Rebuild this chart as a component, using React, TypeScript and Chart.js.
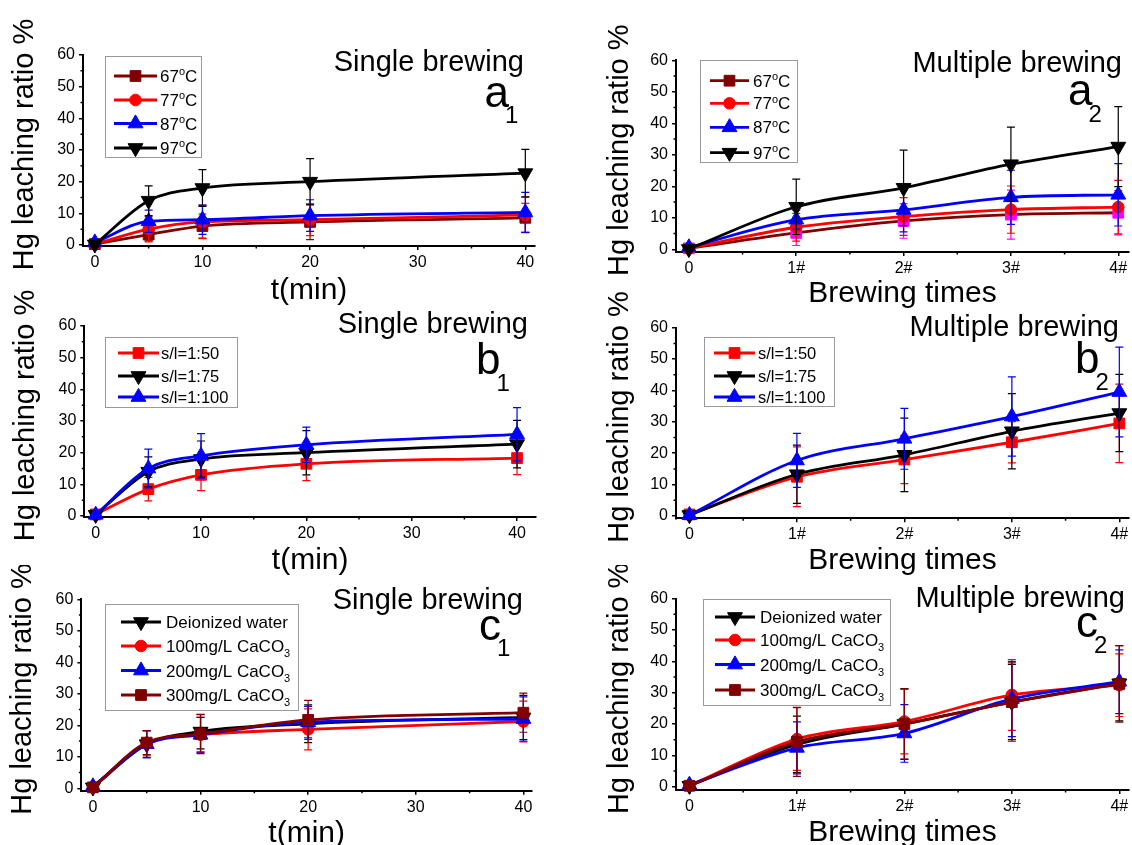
import React, { useEffect, useRef } from 'react';
import { Chart, registerables } from 'chart.js';
Chart.register(...registerables);

const FONT = "'Liberation Sans', Arial, Helvetica, sans-serif";

// ---------- data ----------
const timeMin = [0, 5, 10, 20, 40];
const brewIndex = [0, 1, 2, 3, 4];
const brewTickLabels = ['0', '1#', '2#', '3#', '4#'];
const timeTicks = [0, 10, 20, 30, 40];
const timeMinorTicks = [5, 15, 25, 35];
const brewTicks = [0, 1, 2, 3, 4];
const brewMinorTicks = [0.5, 1.5, 2.5, 3.5];
const yTicks = [0, 10, 20, 30, 40, 50, 60];
const yMinorTicks = [5, 15, 25, 35, 45, 55];

const yAxisTitle = 'Hg leaching ratio %';
const timeAxisTitle = 't(min)';
const brewAxisTitle = 'Brewing times';

const tempLabels = ['67°C', '77°C', '87°C', '97°C'];
const ratioLabels = ['s/l=1:50', 's/l=1:75', 's/l=1:100'];
const waterLabels = ['Deionized water', '100mg/L CaCO3', '200mg/L CaCO3', '300mg/L CaCO3'];

// a1 single brewing, temperature
const a1_67 = [0.3, 3.3, 6.0, 7.3, 8.6];
const a1_67_err = [0.4, 2.0, 3.8, 5.6, 4.6];
const a1_77 = [0.3, 5.0, 7.3, 8.0, 9.5];
const a1_77_err = [0.5, 4.0, 5.3, 5.0, 5.6];
const a1_87 = [0.8, 7.5, 8.0, 9.3, 10.3];
const a1_87_err = [0.6, 3.5, 4.6, 5.0, 6.3];
const a1_97 = [0.2, 14.0, 18.0, 20.0, 22.7];
const a1_97_err = [0.3, 4.7, 5.8, 7.3, 7.5];

// a2 multiple brewing, temperature
const a2_67 = [0.3, 5.2, 9.0, 11.0, 11.6];
const a2_67_err = [0.3, 4.0, 5.5, 7.8, 7.0];
const a2_77 = [0.3, 7.0, 10.4, 12.6, 13.4];
const a2_77_err = [0.3, 4.4, 6.0, 7.5, 8.5];
const a2_87 = [0.6, 9.4, 12.5, 16.5, 17.3];
const a2_87_err = [0.4, 3.0, 7.0, 8.6, 9.9];
const a2_97 = [0.1, 13.5, 19.5, 27.0, 32.6];
const a2_97_err = [0.3, 8.8, 12.0, 11.8, 12.7];

// b1 single brewing, solid/liquid ratio
const b1_50 = [0.5, 8.5, 13.0, 16.5, 18.3];
const b1_50_err = [0.3, 3.7, 5.0, 5.3, 5.2];
const b1_75 = [0.4, 14.0, 18.0, 20.0, 22.7];
const b1_75_err = [0.3, 4.7, 5.7, 7.0, 7.5];
const b1_100 = [0.4, 15.0, 19.0, 22.5, 25.8];
const b1_100_err = [0.3, 6.1, 7.0, 5.6, 8.4];

// b2 multiple brewing, solid/liquid ratio
const b2_50 = [0.5, 12.5, 18.0, 23.5, 29.5];
const b2_50_err = [0.3, 9.5, 7.7, 6.6, 12.5];
const b2_75 = [0.3, 13.3, 19.5, 27.0, 32.8];
const b2_75_err = [0.3, 9.3, 11.7, 12.0, 12.3];
const b2_100 = [0.3, 17.7, 24.6, 31.7, 39.5];
const b2_100_err = [0.3, 8.6, 9.7, 12.6, 14.3];

// c1 single brewing, water hardness
const c1_di = [0.3, 14.0, 18.0, 20.5, 22.5];
const c1_di_err = [0.3, 4.3, 5.5, 6.0, 7.0];
const c1_100 = [0.3, 14.3, 17.0, 18.7, 21.2];
const c1_100_err = [0.3, 4.0, 5.5, 6.5, 6.5];
const c1_200 = [0.6, 14.0, 17.0, 21.0, 22.0];
const c1_200_err = [0.3, 4.3, 5.5, 5.0, 7.0];
const c1_300 = [0.3, 14.5, 17.2, 21.7, 24.0];
const c1_300_err = [0.3, 3.8, 6.2, 6.2, 6.2];

// c2 multiple brewing, water hardness
const c2_di = [0.3, 13.5, 20.0, 27.0, 33.0];
const c2_di_err = [0.3, 9.0, 11.3, 12.0, 12.0];
const c2_100 = [0.3, 15.2, 20.8, 29.3, 32.4];
const c2_100_err = [0.3, 10.0, 10.3, 11.3, 10.0];
const c2_200 = [0.6, 12.4, 17.0, 28.0, 33.5];
const c2_200_err = [0.3, 8.3, 9.2, 12.0, 10.2];
const c2_300 = [0.3, 14.3, 20.0, 27.0, 32.8];
const c2_300_err = [0.3, 11.0, 11.2, 12.5, 12.2];

// ---------- styles ----------
const WINE = '#800000';
const RED = '#FF0000';
const BLUE = '#0000FF';
const BLACK = '#000000';
const MAGENTA = '#FF00FF';

type Shape = 'rect' | 'circle' | 'triangle' | 'invtriangle';
type Series = {
  label: string;
  values: number[];
  errors: number[];
  color: string;
  pointColor?: string;
  legendPointColor?: string;
  shape: Shape;
};

const R_RECT = 7.6;
const R_CIRCLE = 5.8;
const R_TRI = 8.6;
const X_TITLE_SIZE = 30;
const Y_TITLE_SIZE = 29;

type Panel = {
  key: string;
  canvas: { left: number; top: number; width: number; height: number };
  area: { L: number; T: number; R: number; B: number };
  scaleLeft: number;
  xs: number[];
  xMin: number;
  xMax: number;
  xTicks: number[];
  xMinor: number[];
  xLabels?: string[];
  xTitle: string;
  yMin: number;
  series: Series[];
  title: string;
  titleRight: number;
  titleBaseline: number;
  letter: string;
  sub: string;
  letterLeft: number;
  letterBaseline: number;
  subBaseline: number;
  legend: { x: number; y: number; w: number; h: number; rows: number[]; lx0: number; lx1: number; tx: number; size: number };
};

const panels: Panel[] = [
  {
    key: 'a1',
    canvas: { left: 0, top: 0, width: 566, height: 309 },
    area: { L: 83, T: 55, R: 535, B: 246 },
    scaleLeft: 6.5,
    xs: timeMin, xMin: -1.1, xMax: 40.9, xTicks: timeTicks, xMinor: timeMinorTicks, xTitle: timeAxisTitle,
    yMin: -0.3,
    series: [
      { label: tempLabels[0], values: a1_67, errors: a1_67_err, color: WINE, shape: 'rect' },
      { label: tempLabels[1], values: a1_77, errors: a1_77_err, color: RED, shape: 'circle' },
      { label: tempLabels[2], values: a1_87, errors: a1_87_err, color: BLUE, shape: 'triangle' },
      { label: tempLabels[3], values: a1_97, errors: a1_97_err, color: BLACK, shape: 'invtriangle' },
    ],
    title: 'Single brewing', titleRight: 524, titleBaseline: 71,
    letter: 'a', sub: '1', letterLeft: 484.5, letterBaseline: 107, subBaseline: 123,
    legend: { x: 105, y: 56, w: 96, h: 101, rows: [76, 100, 123.5, 148], lx0: 114, lx1: 157, tx: 160, size: 17 },
  },
  {
    key: 'a2',
    canvas: { left: 566, top: 0, width: 566, height: 312 },
    area: { L: 676, T: 60.3, R: 1129, B: 252 },
    scaleLeft: 601.5,
    xs: brewIndex, xMin: -0.12, xMax: 4.1, xTicks: brewTicks, xMinor: brewMinorTicks, xLabels: brewTickLabels, xTitle: brewAxisTitle,
    yMin: -0.86,
    series: [
      { label: tempLabels[0], values: a2_67, errors: a2_67_err, color: WINE, pointColor: MAGENTA, legendPointColor: WINE, shape: 'rect' },
      { label: tempLabels[1], values: a2_77, errors: a2_77_err, color: RED, shape: 'circle' },
      { label: tempLabels[2], values: a2_87, errors: a2_87_err, color: BLUE, shape: 'triangle' },
      { label: tempLabels[3], values: a2_97, errors: a2_97_err, color: BLACK, shape: 'invtriangle' },
    ],
    title: 'Multiple brewing', titleRight: 1122, titleBaseline: 72,
    letter: 'a', sub: '2', letterLeft: 1068, letterBaseline: 105, subBaseline: 122,
    legend: { x: 700, y: 60, w: 97, h: 102, rows: [80.7, 103.3, 127.3, 152.7], lx0: 710, lx1: 749, tx: 753, size: 17 },
  },
  {
    key: 'b1',
    canvas: { left: 0, top: 290, width: 566, height: 289 },
    area: { L: 84.3, T: 326, R: 536, B: 517 },
    scaleLeft: 7.8,
    xs: timeMin, xMin: -1.08, xMax: 41.8, xTicks: timeTicks, xMinor: timeMinorTicks, xTitle: timeAxisTitle,
    yMin: -0.3,
    series: [
      { label: ratioLabels[0], values: b1_50, errors: b1_50_err, color: RED, shape: 'rect' },
      { label: ratioLabels[1], values: b1_75, errors: b1_75_err, color: BLACK, shape: 'invtriangle' },
      { label: ratioLabels[2], values: b1_100, errors: b1_100_err, color: BLUE, shape: 'triangle' },
    ],
    title: 'Single brewing', titleRight: 528, titleBaseline: 333,
    letter: 'b', sub: '1', letterLeft: 476, letterBaseline: 374, subBaseline: 391,
    legend: { x: 105, y: 337, w: 132, h: 70, rows: [353, 376, 397], lx0: 118, lx1: 159, tx: 161, size: 16.5 },
  },
  {
    key: 'b2',
    canvas: { left: 566, top: 290, width: 566, height: 289 },
    area: { L: 676, T: 327.7, R: 1129, B: 518.3 },
    scaleLeft: 601.5,
    xs: brewIndex, xMin: -0.125, xMax: 4.09, xTicks: brewTicks, xMinor: brewMinorTicks, xLabels: brewTickLabels, xTitle: brewAxisTitle,
    yMin: -0.73,
    series: [
      { label: ratioLabels[0], values: b2_50, errors: b2_50_err, color: RED, shape: 'rect' },
      { label: ratioLabels[1], values: b2_75, errors: b2_75_err, color: BLACK, shape: 'invtriangle' },
      { label: ratioLabels[2], values: b2_100, errors: b2_100_err, color: BLUE, shape: 'triangle' },
    ],
    title: 'Multiple brewing', titleRight: 1119, titleBaseline: 336,
    letter: 'b', sub: '2', letterLeft: 1075, letterBaseline: 373, subBaseline: 390,
    legend: { x: 704, y: 337, w: 130, h: 69, rows: [353, 376, 397], lx0: 714, lx1: 755, tx: 758, size: 16.5 },
  },
  {
    key: 'c1',
    canvas: { left: 0, top: 565, width: 566, height: 287 },
    area: { L: 81.4, T: 599.3, R: 532, B: 790.7 },
    scaleLeft: 4.9,
    xs: timeMin, xMin: -1.07, xMax: 40.8, xTicks: timeTicks, xMinor: timeMinorTicks, xTitle: timeAxisTitle,
    yMin: -0.76,
    series: [
      { label: waterLabels[0], values: c1_di, errors: c1_di_err, color: BLACK, shape: 'invtriangle' },
      { label: waterLabels[1], values: c1_100, errors: c1_100_err, color: RED, shape: 'circle' },
      { label: waterLabels[2], values: c1_200, errors: c1_200_err, color: BLUE, shape: 'triangle' },
      { label: waterLabels[3], values: c1_300, errors: c1_300_err, color: WINE, shape: 'rect' },
    ],
    title: 'Single brewing', titleRight: 523, titleBaseline: 609,
    letter: 'c', sub: '1', letterLeft: 479, letterBaseline: 640, subBaseline: 656,
    legend: { x: 105, y: 604, w: 193, h: 106, rows: [622, 646, 670.5, 695], lx0: 121, lx1: 161, tx: 166, size: 17 },
  },
  {
    key: 'c2',
    canvas: { left: 566, top: 565, width: 566, height: 286 },
    area: { L: 676, T: 598.7, R: 1129, B: 790 },
    scaleLeft: 601.5,
    xs: brewIndex, xMin: -0.125, xMax: 4.09, xTicks: brewTicks, xMinor: brewMinorTicks, xLabels: brewTickLabels, xTitle: brewAxisTitle,
    yMin: -1.05,
    series: [
      { label: waterLabels[0], values: c2_di, errors: c2_di_err, color: BLACK, shape: 'invtriangle' },
      { label: waterLabels[1], values: c2_100, errors: c2_100_err, color: RED, shape: 'circle' },
      { label: waterLabels[2], values: c2_200, errors: c2_200_err, color: BLUE, shape: 'triangle' },
      { label: waterLabels[3], values: c2_300, errors: c2_300_err, color: WINE, shape: 'rect' },
    ],
    title: 'Multiple brewing', titleRight: 1125, titleBaseline: 607,
    letter: 'c', sub: '2', letterLeft: 1076, letterBaseline: 637, subBaseline: 653,
    legend: { x: 703, y: 599, w: 187, h: 106, rows: [617, 640, 664.5, 690], lx0: 715, lx1: 755, tx: 760, size: 17 },
  },
];

// ---------- helpers ----------
function shapeProps(shape: Shape) {
  if (shape === 'rect') return { pointStyle: 'rect', pointRadius: R_RECT, pointRotation: 0 };
  if (shape === 'circle') return { pointStyle: 'circle', pointRadius: R_CIRCLE, pointRotation: 0 };
  if (shape === 'triangle') return { pointStyle: 'triangle', pointRadius: R_TRI, pointRotation: 0 };
  return { pointStyle: 'triangle', pointRadius: R_TRI, pointRotation: 180 };
}

function drawMarker(ctx: CanvasRenderingContext2D, shape: Shape, x: number, y: number, color: string) {
  ctx.save();
  ctx.fillStyle = color;
  ctx.strokeStyle = color;
  ctx.lineWidth = 1;
  ctx.beginPath();
  if (shape === 'rect') {
    const h = R_RECT * Math.SQRT1_2;
    ctx.rect(x - h, y - h, 2 * h, 2 * h);
  } else if (shape === 'circle') {
    ctx.arc(x, y, R_CIRCLE, 0, Math.PI * 2);
  } else {
    let rad = shape === 'invtriangle' ? Math.PI : 0;
    const r = R_TRI;
    ctx.moveTo(x + Math.sin(rad) * r, y - Math.cos(rad) * r);
    rad += (2 * Math.PI) / 3;
    ctx.lineTo(x + Math.sin(rad) * r, y - Math.cos(rad) * r);
    rad += (2 * Math.PI) / 3;
    ctx.lineTo(x + Math.sin(rad) * r, y - Math.cos(rad) * r);
  }
  ctx.closePath();
  ctx.fill();
  ctx.stroke();
  ctx.restore();
}

function drawRichLabel(ctx: CanvasRenderingContext2D, label: string, x: number, midY: number, size: number) {
  type Part = { t: string; mode: 'n' | 'sup' | 'sub' };
  let parts: Part[] = [{ t: label, mode: 'n' }];
  if (label.includes('°')) {
    const [a, b] = label.split('°');
    parts = [{ t: a, mode: 'n' }, { t: 'o', mode: 'sup' }, { t: b, mode: 'n' }];
  } else if (/CaCO3$/.test(label)) {
    parts = [{ t: label.slice(0, -1), mode: 'n' }, { t: '3', mode: 'sub' }];
  }
  const base = midY + 0.36 * size;
  let cx = x;
  ctx.save();
  ctx.fillStyle = '#000';
  ctx.textAlign = 'left';
  ctx.textBaseline = 'alphabetic';
  for (const p of parts) {
    const fs = p.mode === 'n' ? size : Math.round(size * 0.62);
    ctx.font = `${fs}px ${FONT}`;
    const dy = p.mode === 'sup' ? -size * 0.4 : p.mode === 'sub' ? size * 0.3 : 0;
    ctx.fillText(p.t, cx, base + dy);
    cx += ctx.measureText(p.t).width;
  }
  ctx.restore();
}

function PanelChart({ p }: { p: Panel }) {
  const ref = useRef<HTMLCanvasElement | null>(null);
  useEffect(() => {
    const canvas = ref.current!;
    const ox = p.canvas.left;
    const oy = p.canvas.top;
    const n = p.series.length;
    const canvasRight = p.canvas.left + p.canvas.width;
    const canvasBottom = p.canvas.top + p.canvas.height;

    const deco = {
      id: 'deco_' + p.key,
      afterDatasetDraw(chart: any, args: any) {
        const s = p.series[args.index];
        const ctx: CanvasRenderingContext2D = chart.ctx;
        const xS = chart.scales.x;
        const yS = chart.scales.y;
        ctx.save();
        ctx.strokeStyle = s.pointColor ?? s.color;
        ctx.lineWidth = 1.2;
        p.xs.forEach((xv, j) => {
          const e = s.errors[j];
          if (!e) return;
          const px = xS.getPixelForValue(xv);
          const y1 = yS.getPixelForValue(s.values[j] + e);
          const y2 = yS.getPixelForValue(s.values[j] - e);
          ctx.beginPath();
          ctx.moveTo(px, y1);
          ctx.lineTo(px, y2);
          ctx.moveTo(px - 4, y1);
          ctx.lineTo(px + 4, y1);
          ctx.moveTo(px - 4, y2);
          ctx.lineTo(px + 4, y2);
          ctx.stroke();
        });
        ctx.restore();
      },
      afterDraw(chart: any) {
        const ctx: CanvasRenderingContext2D = chart.ctx;
        const xS = chart.scales.x;
        const yS = chart.scales.y;
        const ca = chart.chartArea;
        ctx.save();
        // minor ticks
        ctx.strokeStyle = '#000';
        ctx.lineWidth = 1.5;
        ctx.beginPath();
        for (const v of yMinorTicks) {
          const py = yS.getPixelForValue(v);
          ctx.moveTo(ca.left - 2.5, py);
          ctx.lineTo(ca.left, py);
        }
        for (const v of p.xMinor) {
          const px = xS.getPixelForValue(v);
          ctx.moveTo(px, ca.bottom);
          ctx.lineTo(px, ca.bottom + 2.5);
        }
        ctx.stroke();

        // y axis title (rotated)
        ctx.save();
        ctx.translate(p.scaleLeft - ox + 18, (ca.top + ca.bottom) / 2 - 6);
        ctx.rotate(-Math.PI / 2);
        ctx.fillStyle = '#000';
        ctx.textAlign = 'center';
        ctx.textBaseline = 'middle';
        ctx.font = `${Y_TITLE_SIZE}px ${FONT}`;
        ctx.fillText(yAxisTitle, 0, 0);
        ctx.restore();

        // panel title + letter
        ctx.fillStyle = '#000';
        ctx.textBaseline = 'alphabetic';
        ctx.textAlign = 'right';
        ctx.font = `29px ${FONT}`;
        ctx.fillText(p.title, p.titleRight - ox, p.titleBaseline - oy);
        ctx.textAlign = 'left';
        ctx.font = `44px ${FONT}`;
        ctx.fillText(p.letter, p.letterLeft - ox, p.letterBaseline - oy);
        const lw = ctx.measureText(p.letter).width;
        ctx.font = `24px ${FONT}`;
        ctx.fillText(p.sub, p.letterLeft - ox + lw - 4, p.subBaseline - oy);

        // legend
        const lg = p.legend;
        ctx.strokeStyle = '#9a9a9a';
        ctx.lineWidth = 1;
        ctx.strokeRect(Math.round(lg.x - ox) + 0.5, Math.round(lg.y - oy) + 0.5, lg.w, lg.h);
        p.series.forEach((s, i) => {
          const ry = lg.rows[i] - oy;
          ctx.save();
          ctx.strokeStyle = s.color;
          ctx.lineWidth = 2.8;
          ctx.beginPath();
          ctx.moveTo(lg.lx0 - ox, ry);
          ctx.lineTo(lg.lx1 - ox, ry);
          ctx.stroke();
          ctx.restore();
          drawMarker(ctx, s.shape, (lg.lx0 + lg.lx1) / 2 - ox, ry, s.legendPointColor ?? s.pointColor ?? s.color);
          drawRichLabel(ctx, s.label, lg.tx - ox, ry, lg.size);
        });
        ctx.restore();
      },
    };

    const tickFont = { family: FONT, size: 16 };
    const titleFont = { family: FONT, size: X_TITLE_SIZE };
    const chart = new Chart(canvas, {
      type: 'line',
      data: {
        datasets: p.series.map((s, i) => ({
          label: s.label,
          data: p.xs.map((x, j) => ({ x, y: s.values[j] })),
          borderColor: s.color,
          backgroundColor: s.pointColor ?? s.color,
          borderWidth: 2.8,
          pointBackgroundColor: s.pointColor ?? s.color,
          pointBorderColor: s.pointColor ?? s.color,
          pointBorderWidth: 1,
          ...shapeProps(s.shape),
          cubicInterpolationMode: 'monotone',
          fill: false,
          clip: false,
          order: n - i,
        })) as any,
      },
      options: {
        animation: false,
        responsive: false,
        devicePixelRatio: 1,
        events: [],
        layout: {
          autoPadding: false,
          padding: {
            left: p.scaleLeft - ox,
            top: p.area.T - oy,
            right: canvasRight - p.area.R,
            bottom: 0,
          },
        } as any,
        plugins: { legend: { display: false }, tooltip: { enabled: false }, title: { display: false } },
        scales: {
          x: {
            type: 'linear',
            min: p.xMin,
            max: p.xMax,
            afterFit: (sc: any) => {
              sc.height = canvasBottom - p.area.B;
            },
            afterBuildTicks: (axis: any) => {
              axis.ticks = p.xTicks.map((v) => ({ value: v }));
            },
            ticks: {
              autoSkip: false,
              maxRotation: 0,
              color: '#000',
              font: tickFont,
              padding: 3,
              callback: (v: any) => {
                const idx = p.xTicks.indexOf(Number(v));
                return p.xLabels && idx >= 0 ? p.xLabels[idx] : String(v);
              },
            },
            grid: { display: true, drawOnChartArea: false, drawTicks: true, tickLength: 4, color: '#000', lineWidth: 1.5 },
            border: { display: true, color: '#000', width: 2 },
            title: { display: true, text: p.xTitle, color: '#000', font: titleFont, padding: { top: 0, bottom: 0 } },
          },
          y: {
            type: 'linear',
            min: p.yMin,
            max: 60,
            afterFit: (sc: any) => {
              sc.width = p.area.L - p.scaleLeft;
            },
            afterBuildTicks: (axis: any) => {
              axis.ticks = yTicks.map((v) => ({ value: v }));
            },
            ticks: { color: '#000', font: tickFont, padding: 4, callback: (v: any) => String(v) },
            grid: { display: true, drawOnChartArea: false, drawTicks: true, tickLength: 4, color: '#000', lineWidth: 1.5 },
            border: { display: true, color: '#000', width: 2 },
            title: { display: false },
          },
        },
      } as any,
      plugins: [deco],
    });
    return () => chart.destroy();
  }, [p]);
  return (
    <canvas
      ref={ref}
      width={p.canvas.width}
      height={p.canvas.height}
      style={{ position: 'absolute', left: p.canvas.left, top: p.canvas.top, width: p.canvas.width, height: p.canvas.height }}
    />
  );
}

export default function App() {
  return (
    <div style={{ position: 'absolute', left: 0, top: 0, width: 1132, height: 845, overflow: 'hidden', background: '#fff' }}>
      {panels.map((p) => (
        <PanelChart key={p.key} p={p} />
      ))}
    </div>
  );
}
